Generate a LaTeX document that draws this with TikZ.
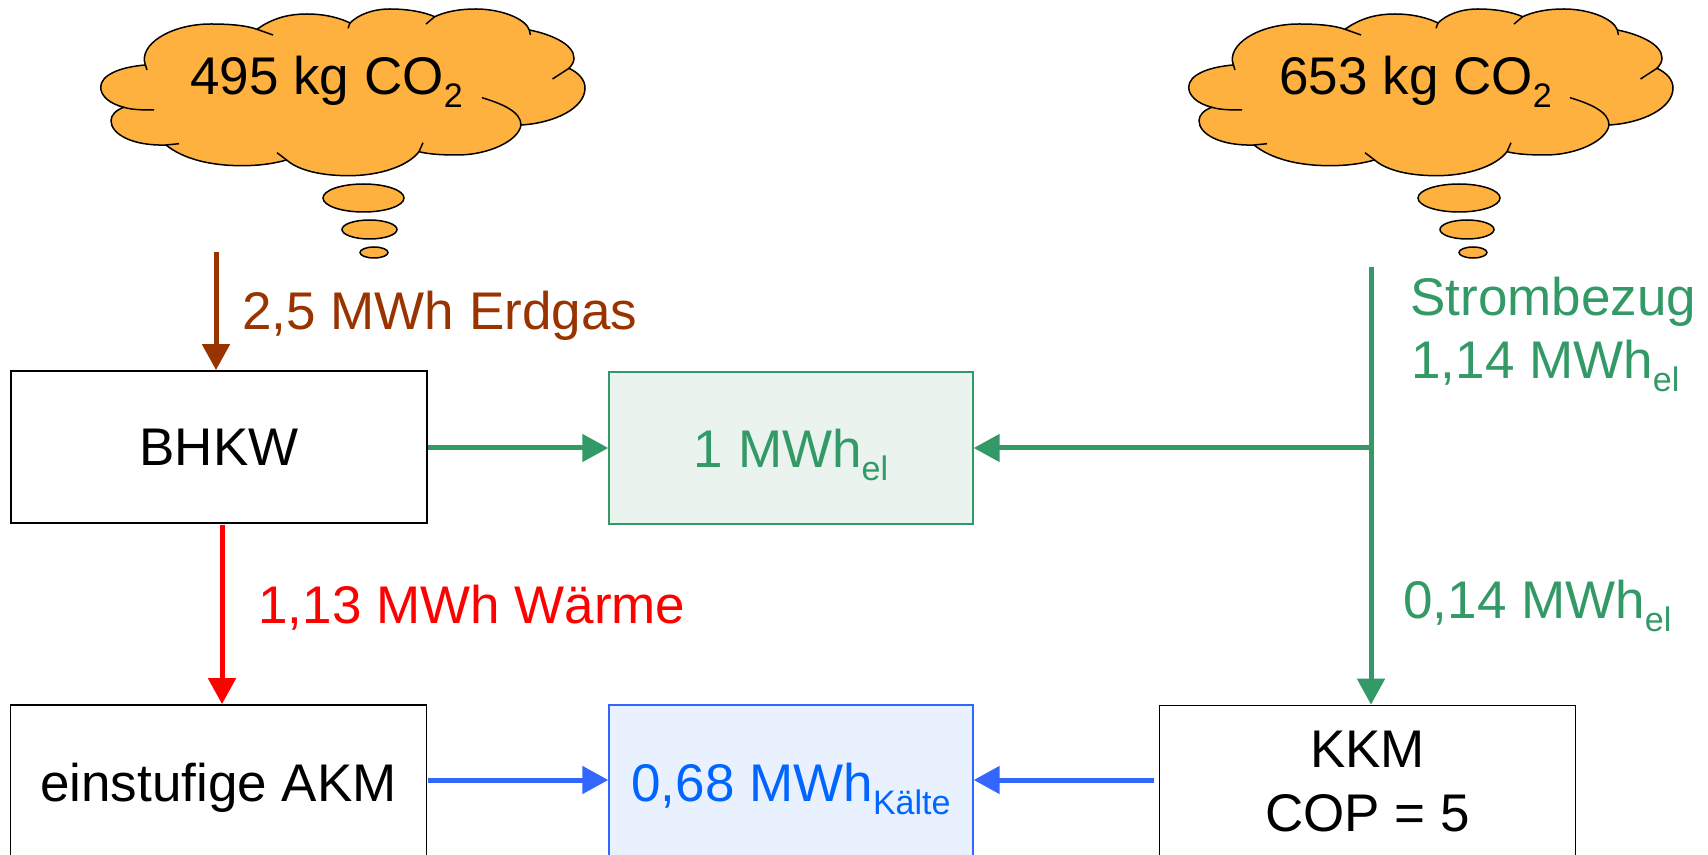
\documentclass[tikz,border=0pt]{standalone}
\usepackage{fontspec}
\setmainfont{Liberation Sans}
\usetikzlibrary{arrows.meta}
\definecolor{cloudorange}{HTML}{FFB13F}
\definecolor{elgreen}{HTML}{339966}
\definecolor{gasbrown}{HTML}{993300}
\definecolor{coldblue}{HTML}{3366FF}
\definecolor{coldtext}{HTML}{0066FF}
\definecolor{elfill}{HTML}{EAF3EE}
\definecolor{coldfill}{HTML}{E9F0FE}
\newcommand{\lowtxt}[1]{\raisebox{-6.5pt}{\fontsize{17}{18}\selectfont #1}}
\tikzset{
	plantbox/.style={draw=black, line width=0.85pt, minimum width=208pt, minimum height=76pt, inner sep=0pt, align=center},
	sumbox/.style={line width=0.7pt, minimum width=182pt, minimum height=76pt, inner sep=0pt},
	oneline/.style={text height=#1, text depth=0pt},
	flowlab/.style={anchor=base west, inner sep=0pt},
	flow/.style={line width=2.5pt, -{Triangle[length=13pt,width=13.5pt]}},
	puff/.style={draw=black, line width=0.75pt, fill=cloudorange},
}

\begin{document}
\begin{tikzpicture}[x=0.5pt, y=-0.5pt, every node/.style={font=\fontsize{26.5}{32}\selectfont}]
	\useasboundingbox (0,0) rectangle (1708,855);
	\clip (0,0) rectangle (1708,855);
	% clouds
	\foreach \cx/\clab in {0/495, 1088/653} {
		\begin{scope}[shift={(\cx,0)}]
			\draw[puff, line join=round] (145.4,65) .. controls (138,45) and (170,24) .. (211,24)
				.. controls (227,24) and (245,25) .. (257,29.3)
				.. controls (270,20) and (285,14) .. (307,14)
				.. controls (325,14) and (340,18) .. (350,23)
				.. controls (358,15) and (372,9) .. (390,9)
				.. controls (408,9) and (424,12) .. (434.7,16.7)
				.. controls (445,12) and (458,9) .. (476,9)
				.. controls (500,9) and (525,18) .. (529.4,30)
				.. controls (550,34) and (574,44) .. (574,58)
				.. controls (574,62) and (572,65) .. (569,68.3)
				.. controls (579,73) and (585,80) .. (585,88)
				.. controls (585,108) and (555,123) .. (521,125)
				.. controls (519,140) and (490,155) .. (457,155)
				.. controls (440,155) and (428,154) .. (419,151.7)
				.. controls (408,166) and (380,175.7) .. (348.6,175.7)
				.. controls (320,175.7) and (298,170) .. (286.6,160)
				.. controls (272,164) and (258,165.7) .. (242,165.7)
				.. controls (208,165.7) and (182,158) .. (166,145)
				.. controls (132,146) and (111,134) .. (111,120.7)
				.. controls (111,115) and (116,110) .. (124,107.3)
				.. controls (110,104) and (100.7,96) .. (100.7,87.3)
				.. controls (100.7,75) and (120,67) .. (145.4,65) -- cycle;
			% inner ends of the lobes
			\draw[line width=0.75pt] (145.4,65) -- (147,70);
			\draw[line width=0.75pt] (257,29.3) -- (273,35);
			\draw[line width=0.75pt] (350,23) -- (348,28.3);
			\draw[line width=0.75pt] (434.7,16.7) -- (426,24);
			\draw[line width=0.75pt] (529.4,30) -- (530.4,35);
			\draw[line width=0.75pt] (569,68.3) -- (552.5,79);
			\draw[line width=0.75pt] (521,125) .. controls (521,112) and (503,104) .. (482,97.7);
			\draw[line width=0.75pt] (419,151.7) -- (423,142.7);
			\draw[line width=0.75pt] (286.6,160) -- (277,152.7);
			\draw[line width=0.75pt] (166,145) -- (179,143.7);
			\draw[line width=0.75pt] (124,107.3) .. controls (132,110) and (145,110) .. (154,110);
		\end{scope}
	}
	% bubbles below the clouds
	\foreach \bx/\by/\brx/\bry in {363.5/198/40.5/14, 369.5/229.5/27.5/9.5, 374/252.5/14/5.5, 1459/198/41/14, 1467/229.5/27/9.5, 1473/252.5/14/5.5} {
		\draw[puff] (\bx,\by) ellipse (\brx*1 and \bry*1);
	}
	\node[flowlab] (cloudA) at (190,95) {495 kg CO\lowtxt{2}};
	\node[flowlab] (cloudB) at (1279,95) {653 kg CO\lowtxt{2}};

	% plants and sums
	\node[plantbox, oneline=19pt] (bhkw) at (219,447) {BHKW};
	\node[plantbox, oneline=20pt] (akm) at (218.5,781) {einstufige AKM};
	\node[plantbox] (kkm) at (1367.5,781.5) {KKM\\COP = 5};
	\node[sumbox, oneline=19.5pt, draw=elgreen, fill=elfill, text=elgreen] (strom) at (791,448) {1 MWh\lowtxt{el}};
	\node[sumbox, oneline=20pt, draw=coldblue, fill=coldfill, text=coldtext] (kalte) at (791,781) {0,68 MWh\lowtxt{Kälte}};

	% free ends of the flows
	\coordinate (gasin) at (216,252);
	\coordinate (waerme) at (222,525);
	\coordinate (netz) at (1371,267);
	\coordinate (netzab) at (1371,448);
	\coordinate (bhkwab) at (428,448);
	\coordinate (akmab) at (428,780);
	\coordinate (kkmab) at (1154,780);

	\draw[flow, gasbrown] (gasin) -- (gasin |- bhkw.north);
	\draw[flow, red] (waerme) -- (waerme |- akm.north);
	\draw[flow, elgreen] (bhkwab) -- (strom.west);
	\draw[flow, elgreen] (netz) -- (netz |- kkm.north);
	\draw[flow, elgreen] (netzab) -- (strom.east);
	\draw[flow, coldblue] (akmab) -- (akmab -| kalte.west);
	\draw[flow, coldblue] (kkmab) -- (kkmab -| kalte.east);

	% flow labels
	\node[flowlab, text=gasbrown] (lgas) at (242,329.5) {2,5 MWh Erdgas};
	\node[flowlab, text=red] (lwaerme) at (258,623) {1,13 MWh Wärme};
	\node[flowlab, text=elgreen] (lbezug) at (1410,316) {Strombezug};
	\node[flowlab, text=elgreen] (lbezugb) at (1411,379) {1,14 MWh\lowtxt{el}};
	\node[flowlab, text=elgreen] (lkkm) at (1403,618) {0,14 MWh\lowtxt{el}};
\end{tikzpicture}
\end{document}
